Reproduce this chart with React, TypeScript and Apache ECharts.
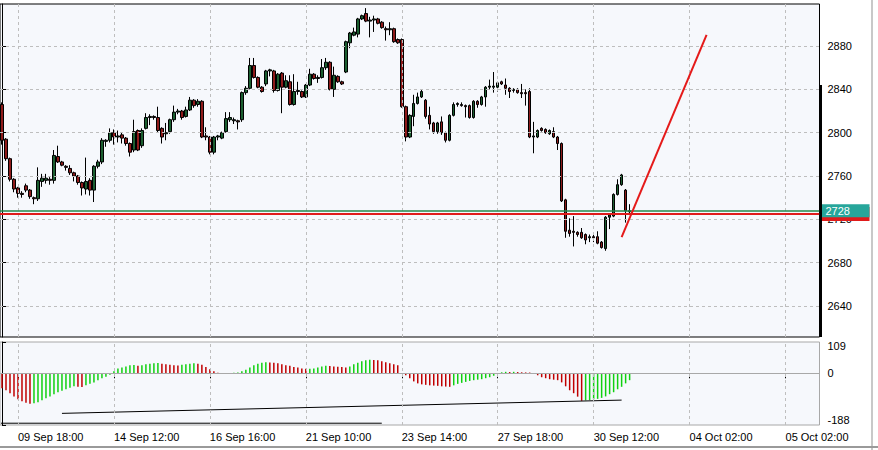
import React, { useEffect, useRef } from "react";
import * as echarts from "echarts";

// ---- data ----
const opens = [
  2826, 2794, 2776, 2757, 2749, 2744, 2751, 2747, 2740, 2739,
  2755, 2756, 2757, 2756, 2778, 2773, 2769, 2767, 2763, 2760,
  2754, 2748, 2756, 2747, 2769, 2773, 2792, 2793, 2800, 2796,
  2798, 2795, 2790, 2784, 2802, 2788, 2804, 2814, 2815, 2814,
  2804, 2799, 2801, 2812, 2819, 2820, 2815, 2821, 2830, 2826,
  2829, 2797, 2796, 2782, 2796, 2795, 2801, 2812, 2811, 2811,
  2812, 2837, 2841, 2862, 2851, 2842, 2845, 2857, 2857, 2839,
  2855, 2842, 2847, 2826, 2838, 2838, 2833, 2844, 2854, 2850,
  2851, 2860, 2865, 2840, 2852, 2847, 2856, 2883, 2890, 2891,
  2905, 2910, 2903, 2904, 2905, 2902, 2896, 2895, 2896, 2886,
  2886, 2824, 2796, 2815, 2827, 2833, 2830, 2816, 2809, 2801,
  2810, 2800, 2793, 2816, 2826, 2826, 2825, 2825, 2814, 2829,
  2826, 2833, 2842, 2842, 2842, 2847, 2844, 2841, 2839, 2840,
  2837, 2837, 2838, 2796, 2796, 2804, 2803, 2799, 2801, 2796,
  2790, 2738, 2710, 2709, 2708, 2708, 2706, 2703, 2704, 2704,
  2699, 2693, 2722, 2723, 2743, 2752, 2747, 2727,
];
const closes = [
  2793, 2776, 2757, 2748, 2744, 2743, 2747, 2741, 2739, 2756,
  2758, 2758, 2756, 2779, 2773, 2770, 2768, 2763, 2760, 2754,
  2749, 2755, 2747, 2769, 2773, 2793, 2793, 2800, 2796, 2797,
  2795, 2790, 2782, 2801, 2784, 2802, 2814, 2815, 2814, 2802,
  2796, 2800, 2812, 2819, 2820, 2814, 2821, 2830, 2825, 2829,
  2796, 2796, 2782, 2796, 2797, 2800, 2813, 2814, 2812, 2810,
  2837, 2841, 2862, 2851, 2842, 2838, 2857, 2858, 2839, 2854,
  2842, 2848, 2826, 2838, 2839, 2833, 2844, 2854, 2850, 2851,
  2860, 2865, 2840, 2853, 2847, 2845, 2884, 2892, 2893, 2905,
  2908, 2903, 2904, 2905, 2901, 2897, 2895, 2896, 2884, 2883,
  2824, 2796, 2816, 2827, 2833, 2838, 2815, 2808, 2801, 2809,
  2800, 2793, 2816, 2826, 2827, 2825, 2824, 2814, 2829, 2826,
  2833, 2842, 2843, 2843, 2846, 2845, 2841, 2838, 2840, 2837,
  2836, 2836, 2796, 2797, 2802, 2802, 2800, 2802, 2796, 2790,
  2737, 2709, 2707, 2708, 2706, 2703, 2701, 2704, 2703, 2698,
  2694, 2722, 2724, 2743, 2752, 2761, 2728, 2728,
];
const lows = [
  2789, 2774, 2755, 2745, 2740, 2740, 2745, 2739, 2734, 2737,
  2750, 2753, 2752, 2753, 2772, 2769, 2765, 2761, 2755, 2752,
  2742, 2743, 2742, 2736, 2767, 2771, 2787, 2791, 2789, 2791,
  2790, 2788, 2778, 2782, 2783, 2786, 2803, 2807, 2812, 2800,
  2790, 2793, 2799, 2810, 2817, 2812, 2814, 2820, 2823, 2824,
  2795, 2793, 2780, 2780, 2793, 2794, 2800, 2810, 2808, 2803,
  2810, 2835, 2840, 2850, 2841, 2837, 2843, 2852, 2837, 2838,
  2818, 2841, 2825, 2825, 2835, 2832, 2832, 2843, 2849, 2846,
  2850, 2858, 2839, 2833, 2846, 2844, 2855, 2878, 2889, 2888,
  2904, 2902, 2888, 2893, 2900, 2896, 2885, 2890, 2883, 2882,
  2823, 2792, 2795, 2806, 2826, 2832, 2813, 2803, 2799, 2799,
  2798, 2791, 2792, 2815, 2824, 2824, 2814, 2813, 2813, 2823,
  2825, 2824, 2840, 2837, 2838, 2844, 2835, 2832, 2837, 2836,
  2832, 2825, 2795, 2781, 2795, 2801, 2799, 2798, 2795, 2784,
  2736, 2703, 2704, 2695, 2704, 2702, 2697, 2699, 2699, 2697,
  2693, 2691, 2711, 2722, 2742, 2751, 2717, 2724,
];
const highs = [
  2828, 2795, 2777, 2758, 2750, 2746, 2753, 2748, 2741, 2768,
  2762, 2762, 2759, 2784, 2788, 2774, 2770, 2770, 2764, 2761,
  2755, 2777, 2758, 2770, 2775, 2795, 2794, 2804, 2803, 2802,
  2800, 2796, 2791, 2812, 2803, 2804, 2818, 2817, 2816, 2824,
  2805, 2809, 2813, 2825, 2822, 2821, 2824, 2833, 2831, 2831,
  2830, 2805, 2797, 2797, 2798, 2801, 2819, 2819, 2814, 2812,
  2838, 2843, 2869, 2869, 2852, 2843, 2858, 2859, 2858, 2855,
  2856, 2853, 2853, 2854, 2847, 2839, 2845, 2859, 2855, 2853,
  2868, 2869, 2866, 2861, 2853, 2848, 2885, 2893, 2897, 2906,
  2909, 2915, 2907, 2908, 2906, 2903, 2898, 2902, 2897, 2887,
  2887, 2825, 2817, 2835, 2837, 2840, 2831, 2824, 2810, 2810,
  2815, 2801, 2817, 2828, 2828, 2828, 2826, 2826, 2830, 2830,
  2834, 2843, 2849, 2856, 2847, 2848, 2850, 2842, 2841, 2841,
  2845, 2840, 2841, 2810, 2803, 2805, 2804, 2803, 2805, 2797,
  2791, 2739, 2721, 2723, 2709, 2712, 2707, 2706, 2707, 2709,
  2700, 2723, 2725, 2744, 2757, 2762, 2748, 2734,
];
const histogram = [
  -61, -69, -81, -94, -106, -114, -120, -124, -122, -118,
  -110, -102, -94, -85, -77, -71, -65, -59, -53, -55,
  -56, -49, -43, -37, -28, -20, -14, -6, 8, 20,
  24, 28, 33, 34, 31, 33, 37, 39, 41, 42,
  39, 37, 35, 33, 32, 35, 37, 39, 41, 39,
  35, 26, 16, 8, 2, -2, -1, 0.5, 2, 3,
  8, 14, 24, 33, 39, 43, 45, 44, 43, 41,
  37, 33, 31, 26, 24, 20, 18, 19, 20, 24,
  28, 31, 30, 28, 27, 26, 24, 28, 37, 43,
  49, 53, 55, 54, 53, 49, 45, 41, 37, 33,
  -2, -8, -20, -33, -41, -45, -47, -49, -50, -51,
  -53, -54, -55, -49, -43, -39, -35, -31, -28, -26,
  -24, -20, -16, -10, -2, 4, 6, 5, 6, 5,
  4, 3.5, 3, -1, -8, -16, -20, -24, -26, -28,
  -37, -53, -69, -81, -95, -112, -110, -109, -106, -104,
  -100, -94, -85, -77, -65, -55, -41, -28,
];
const slotCount = 205;
const timeLabels = [
  "09 Sep 18:00", "14 Sep 12:00", "16 Sep 16:00", "21 Sep 10:00", "23 Sep 14:00",
  "27 Sep 18:00", "30 Sep 12:00", "04 Oct 02:00", "05 Oct 02:00",
];
const timeLabelSlots = [4, 28, 52, 76, 100, 124, 148, 172, 196];
const priceTicks = [2640, 2680, 2720, 2760, 2800, 2840, 2880];
const priceRange = [2611.4, 2918.8];
const indicatorTicks = [109, 0, -188];
const indicatorRange = [-210.3, 127.3];
const bidPrice = 2728;
const askPrice = 2725;
const priceTrend = [[155, 2703.7], [176.25, 2890.2]];
const indicatorTrendA = [[15, -163], [155, -109]];
const indicatorTrendB = [[-0.25, -203], [95, -203]];

const FONT = "'Liberation Sans', Arial, sans-serif";
const PLOT_BG = "#F6F8FC";
const GRID_LINE = { color: "#BEBEBE", type: [3, 3] as number[], width: 1 };

function buildOption() {
  const categories = Array.from({ length: slotCount }, (_, i) => String(i));
  const candleData = opens.map((o, i) => [o, closes[i], lows[i], highs[i]]);
  const labelOf = new Map<number, string>(timeLabelSlots.map((s, k) => [s, timeLabels[k]]));
  const showSlot = (i: number) => labelOf.has(i);
  const vLines = timeLabelSlots.map((s) => ({ xAxis: categories[s] }));
  const hLines = priceTicks.map((v) => ({ yAxis: v }));
  const plain = (v: number) => String(v);

  return {
    animation: false,
    backgroundColor: "#FFFFFF",
    textStyle: { fontFamily: FONT },
    grid: [
      { left: -0.5, top: 4, width: 820, height: 333, show: true, backgroundColor: PLOT_BG, borderColor: "#000000", borderWidth: 1 },
      { left: -0.5, top: 342, width: 820, height: 83, show: true, backgroundColor: PLOT_BG, borderColor: "#A8A8A8", borderWidth: 1 },
    ],
    xAxis: [
      {
        type: "category", gridIndex: 0, data: categories, boundaryGap: true,
        axisLine: { show: false }, axisTick: { show: false }, axisLabel: { show: false }, splitLine: { show: false },
      },
      { type: "value", gridIndex: 0, min: -0.5, max: slotCount - 0.5, show: false },
      {
        type: "category", gridIndex: 1, data: categories, boundaryGap: true,
        axisLine: { show: false },
        axisTick: { show: true, alignWithLabel: true, interval: showSlot, length: 5, lineStyle: { color: "#000000" } },
        axisLabel: {
          show: true, interval: showSlot, formatter: (_v: string, i: number) => labelOf.get(i) ?? "",
          align: "left", margin: 6, fontSize: 11, color: "#000000", fontFamily: FONT,
        },
        splitLine: { show: false },
      },
      { type: "value", gridIndex: 1, min: -0.5, max: slotCount - 0.5, show: false },
    ],
    yAxis: [
      {
        type: "value", gridIndex: 0, position: "right", min: priceRange[0], max: priceRange[1], scale: true,
        axisLine: { show: true, lineStyle: { color: "#000000", width: 1 } },
        axisTick: { show: true, inside: false, length: 5, customValues: priceTicks, lineStyle: { color: "#000000" } },
        axisLabel: { show: true, customValues: priceTicks, formatter: plain, margin: 8, fontSize: 11, color: "#000000", fontFamily: FONT },
        splitLine: { show: false },
      },
      {
        type: "value", gridIndex: 1, position: "right", min: indicatorRange[0], max: indicatorRange[1],
        axisLine: { show: true, lineStyle: { color: "#000000", width: 1 } },
        axisTick: { show: true, inside: false, length: 4, customValues: indicatorRange, lineStyle: { color: "#000000" } },
        axisLabel: { show: true, customValues: indicatorTicks, formatter: plain, margin: 8, fontSize: 11, color: "#000000", fontFamily: FONT },
        splitLine: { show: false },
      },
    ],
    series: [
      {
        name: "gridlines", type: "line", xAxisIndex: 0, yAxisIndex: 0, data: [], z: 1, silent: true,
        markLine: {
          silent: true, symbol: ["none", "none"], label: { show: false }, lineStyle: GRID_LINE,
          data: [...hLines, ...vLines],
        },
      },
      {
        name: "price", type: "candlestick", xAxisIndex: 0, yAxisIndex: 0, data: candleData, z: 3, barWidth: 3,
        itemStyle: {
          color: "#1B5E30", color0: "#8E1A1A", borderColor: "#000000", borderColor0: "#000000", borderWidth: 1,
        },
      },
      {
        name: "levels", type: "line", xAxisIndex: 0, yAxisIndex: 0, data: [], z: 6, silent: true,
        markLine: {
          silent: true, symbol: ["none", "none"],
          data: [
            {
              yAxis: askPrice, lineStyle: { color: "#E01B1B", width: 2, type: "solid" },
              label: {
                show: true, position: "end", distance: 2, formatter: () => " ",
                backgroundColor: "#E01B1B", width: 40, height: 12, lineHeight: 12, padding: [1, 4, 1, 4], fontSize: 11,
              },
            },
            {
              yAxis: bidPrice, lineStyle: { color: "#23874B", width: 1.5, type: "solid" },
              label: {
                show: true, position: "end", distance: 2, formatter: (p: any) => String(p.value),
                backgroundColor: "#27A69B", color: "#FFFFFF", width: 40, height: 11, lineHeight: 11,
                padding: [1, 4, 1, 4], fontSize: 11, fontFamily: FONT, align: "left",
              },
            },
          ],
        },
      },
      {
        name: "trend", type: "line", xAxisIndex: 1, yAxisIndex: 0, data: priceTrend, z: 5, symbol: "none",
        lineStyle: { color: "#E51A1A", width: 2 }, silent: true,
      },
      {
        name: "indicatorGrid", type: "line", xAxisIndex: 2, yAxisIndex: 1, data: [], z: 1, silent: true,
        markLine: {
          silent: true, symbol: ["none", "none"], label: { show: false }, lineStyle: GRID_LINE,
          data: [
            ...vLines,
            { yAxis: 0, lineStyle: { color: "#A8A8A8", type: "solid", width: 1 } },
          ],
        },
      },
      {
        name: "histogram", type: "bar", xAxisIndex: 2, yAxisIndex: 1, data: histogram, barWidth: 1.5, z: 3, silent: true,
        itemStyle: {
          color: (p: any) => {
            const i = p.dataIndex;
            return i === 0 || histogram[i] < histogram[i - 1] ? "#C00000" : "#10D010";
          },
        },
      },
      {
        name: "lineA", type: "line", xAxisIndex: 3, yAxisIndex: 1, data: indicatorTrendA, z: 4, symbol: "none",
        lineStyle: { color: "#000000", width: 1 }, silent: true,
      },
      {
        name: "lineB", type: "line", xAxisIndex: 3, yAxisIndex: 1, data: indicatorTrendB, z: 4, symbol: "none",
        lineStyle: { color: "#000000", width: 1 }, silent: true,
      },
    ],
    graphic: [
      { type: "rect", shape: { x: 819.5, y: 85, width: 2.5, height: 252 }, style: { fill: "#000000" }, silent: true, z: 10 },
      { type: "line", shape: { x1: 872, y1: 0, x2: 872, y2: 450 }, style: { stroke: "#C8C8C8", lineWidth: 2 }, silent: true },
      { type: "line", shape: { x1: 0, y1: 447, x2: 878, y2: 447 }, style: { stroke: "#9A9A9A", lineWidth: 2 }, silent: true },
    ],
  };
}

export default function App() {
  const ref = useRef<HTMLDivElement>(null);
  useEffect(() => {
    if (!ref.current) return;
    const chart = echarts.init(ref.current, null, { renderer: "svg" });
    chart.setOption(buildOption() as any);
    return () => chart.dispose();
  }, []);
  return (
    <div
      ref={ref}
      style={{ position: "fixed", left: 0, top: 0, width: 878, height: 450, background: "#FFFFFF" }}
    />
  );
}
